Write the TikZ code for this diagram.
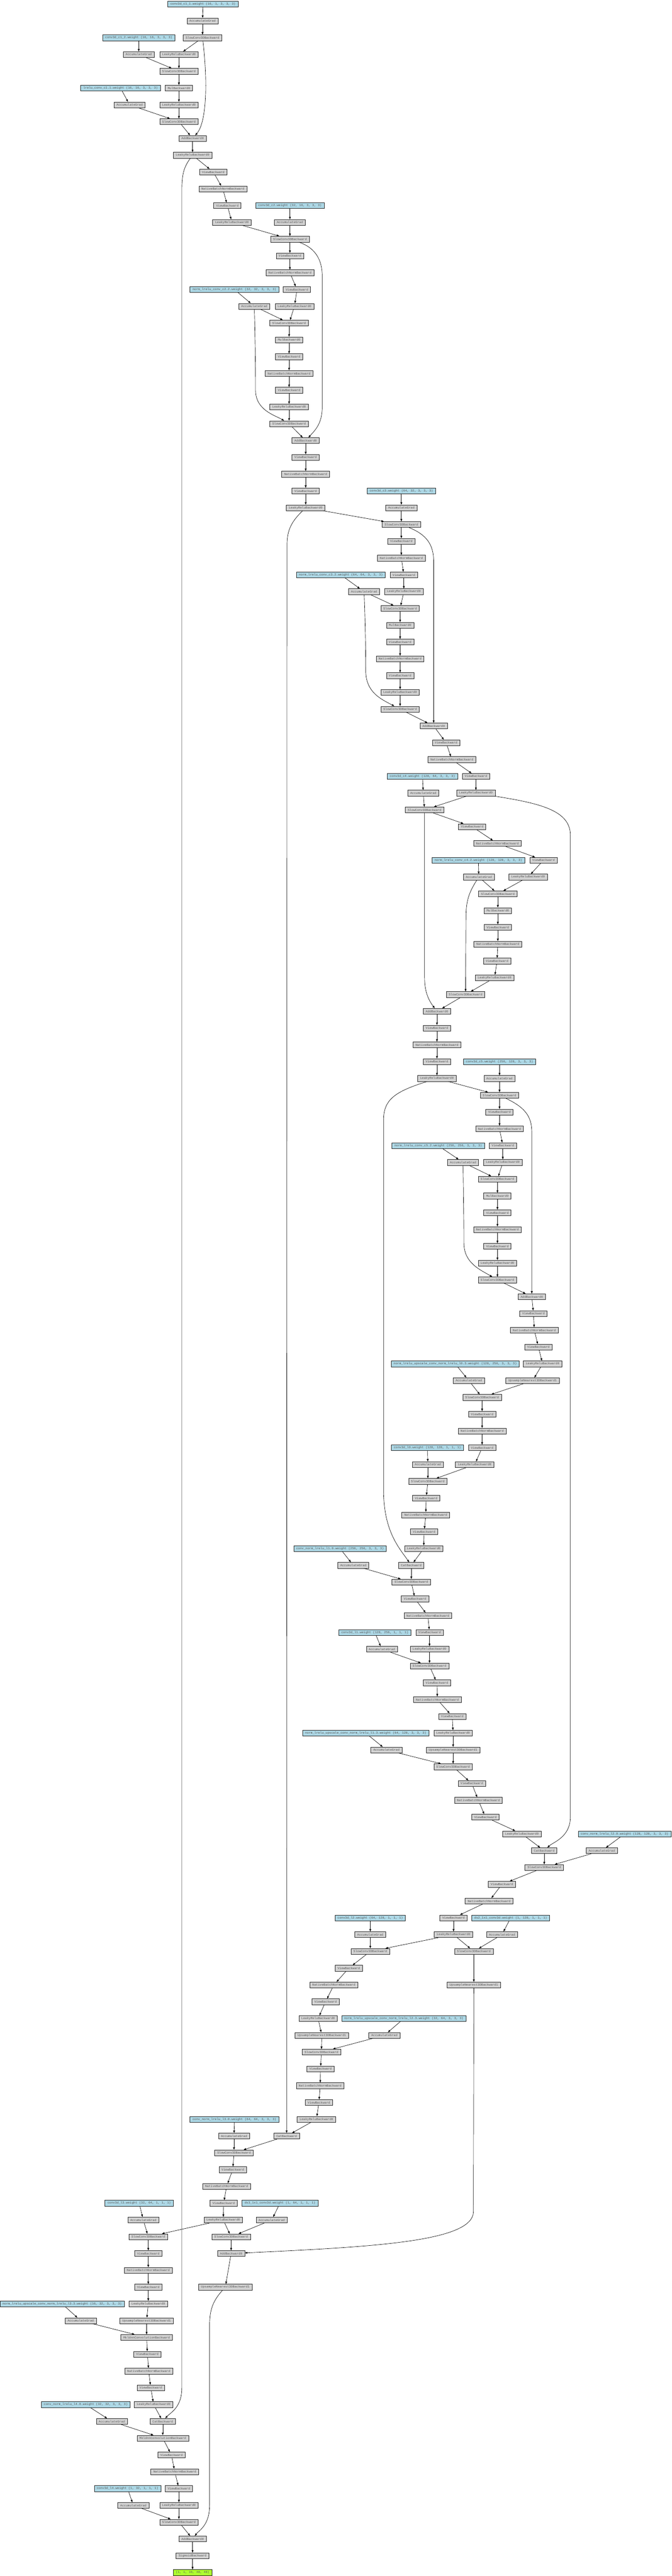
\documentclass[tikz,border=0pt]{standalone}
\usepackage{fontspec}
\setmonofont{Liberation Mono}
\usepackage{xcolor}
\usepackage{tikz}
\usetikzlibrary{arrows.meta}
\definecolor{opgray}{HTML}{D3D3D3}
\definecolor{wblue}{HTML}{ADD8E6}
\definecolor{outgreen}{HTML}{ADFF2F}
\tikzstyle{opnode} = [rectangle, draw=black!85, line width=0.8pt, fill=opgray, text=black!65, font=\ttfamily\fontsize{7.5}{8}\selectfont, minimum height=14pt, inner xsep=6pt, inner ysep=0pt]
\tikzstyle{wnode} = [opnode, fill=wblue]
\tikzstyle{outnode} = [opnode, fill=outgreen]
\tikzstyle{flow} = [draw, line width=0.8pt, -{Triangle[length=6pt,width=4.5pt]}]

\begin{document}
\begin{tikzpicture}[x=1pt, y=-40.54pt]
\useasboundingbox (0,-0.2467) rectangle (1622,153.21);
%%%% context pathway
% level 1
\node [wnode] at (490,0) (wc11) {conv3d\_c1\_1.weight (16, 1, 3, 3, 3)};
\node [opnode] at (489,1) (ag1) {AccumulateGrad};
\node [opnode] at (489,2) (sc1) {SlowConv3DBackward};
\node [wnode] at (335,2) (wc12) {conv3d\_c1\_2.weight (16, 16, 3, 3, 3)};
\node [opnode] at (335,3) (ag2) {AccumulateGrad};
\node [opnode] at (432,3) (lr1) {LeakyReluBackward0};
\node [opnode] at (432,4) (sc2) {SlowConv3DBackward};
\node [opnode] at (432,5) (mul1) {MulBackward0};
\node [wnode] at (291,5) (wlc1) {lrelu\_conv\_c1.1.weight (16, 16, 3, 3, 3)};
\node [opnode] at (313,6) (ag3) {AccumulateGrad};
\node [opnode] at (432,6) (lr2) {LeakyReluBackward0};
\node [opnode] at (432,7) (sc3) {SlowConv3DBackward};
\node [opnode] at (465,8) (add1) {AddBackward0};
\node [opnode] at (465,9) (lr3) {LeakyReluBackward0};

% level 2
\node [opnode] at (515,10) (vw1) {ViewBackward};
\node [opnode] at (538,11) (bn1) {NativeBatchNormBackward};
\node [opnode] at (549,12) (vw2) {ViewBackward};
\node [wnode] at (700,12) (wc2) {conv3d\_c2.weight (32, 16, 3, 3, 3)};
\node [opnode] at (560,13) (lr4) {LeakyReluBackward0};
\node [opnode] at (700,13) (ag4) {AccumulateGrad};
\node [opnode] at (700,14) (sc4) {SlowConv3DBackward};
\node [opnode] at (700,15) (vw3) {ViewBackward};
\node [opnode] at (700,16) (bn2) {NativeBatchNormBackward};
\node [wnode] at (566,17) (wc22) {norm\_lrelu\_conv\_c2.2.weight (32, 32, 3, 3, 3)};
\node [opnode] at (717,17) (vw4) {ViewBackward};
\node [opnode] at (614,18) (ag5) {AccumulateGrad};
\node [opnode] at (711,18) (lr5) {LeakyReluBackward0};
\node [opnode] at (698,19) (sc5) {SlowConv3DBackward};
\node [opnode] at (698,20) (mul2) {MulBackward0};
\node [opnode] at (698,21) (vw5) {ViewBackward};
\node [opnode] at (698,22) (bn3) {NativeBatchNormBackward};
\node [opnode] at (698,23) (vw6) {ViewBackward};
\node [opnode] at (698,24) (lr6) {LeakyReluBackward0};
\node [opnode] at (698,25) (sc6) {SlowConv3DBackward};
\node [opnode] at (738,26) (add2) {AddBackward0};
\node [opnode] at (738,27) (vw7) {ViewBackward};
\node [opnode] at (738,28) (bn4) {NativeBatchNormBackward};
\node [opnode] at (738,29) (vw8) {ViewBackward};
\node [opnode] at (738,30) (lr7) {LeakyReluBackward0};

% level 3
\node [wnode] at (969,29) (wc3) {conv3d\_c3.weight (64, 32, 3, 3, 3)};
\node [opnode] at (969,30) (ag6) {AccumulateGrad};
\node [opnode] at (969,31) (sc7) {SlowConv3DBackward};
\node [opnode] at (969,32) (vw9) {ViewBackward};
\node [opnode] at (969,33) (bn5) {NativeBatchNormBackward};
\node [wnode] at (823,34) (wc32) {norm\_lrelu\_conv\_c3.2.weight (64, 64, 3, 3, 3)};
\node [opnode] at (975,34) (vw10) {ViewBackward};
\node [opnode] at (879,35) (ag7) {AccumulateGrad};
\node [opnode] at (975,35) (lr8) {LeakyReluBackward0};
\node [opnode] at (966,36) (sc8) {SlowConv3DBackward};
\node [opnode] at (966,37) (mul3) {MulBackward0};
\node [opnode] at (966,38) (vw11) {ViewBackward};
\node [opnode] at (966,39) (bn6) {NativeBatchNormBackward};
\node [opnode] at (966,40) (vw12) {ViewBackward};
\node [opnode] at (966,41) (lr9) {LeakyReluBackward0};
\node [opnode] at (966,42) (sc9) {SlowConv3DBackward};
\node [opnode] at (1047,43) (add3) {AddBackward0};
\node [opnode] at (1077,44) (vw13) {ViewBackward};
\node [opnode] at (1091,45) (bn7) {NativeBatchNormBackward};
\node [wnode] at (1020,46) (wc4) {conv3d\_c4.weight (128, 64, 3, 3, 3)};
\node [opnode] at (1149,46) (vw14) {ViewBackward};
\node [opnode] at (1022,47) (ag8) {AccumulateGrad};
\node [opnode] at (1149,47) (lr10) {LeakyReluBackward0};

% level 4
\node [opnode] at (1025,48) (sc10) {SlowConv3DBackward};
\node [opnode] at (1140,49) (vw15) {ViewBackward};
\node [opnode] at (1201,50) (bn8) {NativeBatchNormBackward};
\node [wnode] at (1155,51) (wc42) {norm\_lrelu\_conv\_c4.2.weight (128, 128, 3, 3, 3)};
\node [opnode] at (1312,51) (vw16) {ViewBackward};
\node [opnode] at (1156,52) (ag9) {AccumulateGrad};
\node [opnode] at (1275,52) (lr11) {LeakyReluBackward0};
\node [opnode] at (1202,53) (sc11) {SlowConv3DBackward};
\node [opnode] at (1202,54) (mul4) {MulBackward0};
\node [opnode] at (1202,55) (vw17) {ViewBackward};
\node [opnode] at (1202,56) (bn9) {NativeBatchNormBackward};
\node [opnode] at (1200,57) (vw18) {ViewBackward};
\node [opnode] at (1194,58) (lr12) {LeakyReluBackward0};
\node [opnode] at (1124,59) (sc12) {SlowConv3DBackward};
\node [opnode] at (1055,60) (add4) {AddBackward0};
\node [opnode] at (1055,61) (vw19) {ViewBackward};
\node [opnode] at (1055,62) (bn10) {NativeBatchNormBackward};
\node [opnode] at (1055,63) (vw20) {ViewBackward};
\node [wnode] at (1206,63) (wc5) {conv3d\_c5.weight (256, 128, 3, 3, 3)};
\node [opnode] at (1055,64) (lr13) {LeakyReluBackward0};
\node [opnode] at (1206,64) (ag10) {AccumulateGrad};

% level 5
\node [opnode] at (1206,65) (sc13) {SlowConv3DBackward};
\node [opnode] at (1206,66) (vw21) {ViewBackward};
\node [opnode] at (1206,67) (bn11) {NativeBatchNormBackward};
\node [wnode] at (1058,68) (wc52) {norm\_lrelu\_conv\_c5.2.weight (256, 256, 3, 3, 3)};
\node [opnode] at (1214,68) (vw22) {ViewBackward};
\node [opnode] at (1118,69) (ag11) {AccumulateGrad};
\node [opnode] at (1214,69) (lr14) {LeakyReluBackward0};
\node [opnode] at (1201,70) (sc14) {SlowConv3DBackward};
\node [opnode] at (1201,71) (mul5) {MulBackward0};
\node [opnode] at (1201,72) (vw23) {ViewBackward};
\node [opnode] at (1201,73) (bn12) {NativeBatchNormBackward};
\node [opnode] at (1201,74) (vw24) {ViewBackward};
\node [opnode] at (1201,75) (lr15) {LeakyReluBackward0};
\node [opnode] at (1201,76) (sc15) {SlowConv3DBackward};
\node [opnode] at (1284,77) (add5) {AddBackward0};
\node [opnode] at (1288,78) (vw25) {ViewBackward};
\node [opnode] at (1290,79) (bn13) {NativeBatchNormBackward};
\node [opnode] at (1300,80) (vw26) {ViewBackward};
\node [wnode] at (1099,81) (wup0) {norm\_lrelu\_upscale\_conv\_norm\_lrelu\_l0.3.weight (128, 256, 3, 3, 3)};
\node [opnode] at (1310,81) (lr16) {LeakyReluBackward0};
\node [opnode] at (1132,82) (ag12) {AccumulateGrad};
\node [opnode] at (1286,82) (up1) {UpsampleNearest3DBackward1};
\node [opnode] at (1164,83) (sc16) {SlowConv3DBackward};

%%%% localization pathway
% level l0 / l1
\node [opnode] at (1164,84) (vw27) {ViewBackward};
\node [opnode] at (1164,85) (bn14) {NativeBatchNormBackward};
\node [wnode] at (1032,86) (wl0) {conv3d\_l0.weight (128, 128, 1, 1, 1)};
\node [opnode] at (1164,86) (vw28) {ViewBackward};
\node [opnode] at (1033,87) (ag13) {AccumulateGrad};
\node [opnode] at (1146,87) (lr17) {LeakyReluBackward0};
\node [opnode] at (1033,88) (sc17) {SlowConv3DBackward};
\node [opnode] at (1029,89) (vw29) {ViewBackward};
\node [opnode] at (1028,90) (bn15) {NativeBatchNormBackward};
\node [opnode] at (1024,91) (vw30) {ViewBackward};
\node [wnode] at (821,92) (wl10) {conv\_norm\_lrelu\_l1.0.weight (256, 256, 3, 3, 3)};
\node [opnode] at (1023,92) (lr18) {LeakyReluBackward0};
\node [opnode] at (853,93) (ag14) {AccumulateGrad};
\node [opnode] at (993,93) (cat1) {CatBackward};
\node [opnode] at (993,94) (sc18) {SlowConv3DBackward};
\node [opnode] at (1002,95) (vw31) {ViewBackward};
\node [opnode] at (1033,96) (bn16) {NativeBatchNormBackward};
\node [wnode] at (905,97) (wl1) {conv3d\_l1.weight (128, 256, 1, 1, 1)};
\node [opnode] at (1037,97) (vw32) {ViewBackward};
\node [opnode] at (922,98) (ag15) {AccumulateGrad};
\node [opnode] at (1037,98) (lr19) {LeakyReluBackward0};
\node [opnode] at (1037,99) (sc19) {SlowConv3DBackward};
\node [opnode] at (1055,100) (vw33) {ViewBackward};
\node [opnode] at (1056,101) (bn17) {NativeBatchNormBackward};
\node [opnode] at (1092,102) (vw34) {ViewBackward};
\node [wnode] at (883,103) (wup1) {norm\_lrelu\_upscale\_conv\_norm\_lrelu\_l1.3.weight (64, 128, 3, 3, 3)};
\node [opnode] at (1094,103) (lr20) {LeakyReluBackward0};
\node [opnode] at (933,104) (ag16) {AccumulateGrad};
\node [opnode] at (1094,104) (up2) {UpsampleNearest3DBackward1};
\node [opnode] at (1094,105) (sc20) {SlowConv3DBackward};

% level l2
\node [opnode] at (1139,106) (vw35) {ViewBackward};
\node [opnode] at (1155,107) (bn18) {NativeBatchNormBackward};
\node [opnode] at (1172,108) (vw36) {ViewBackward};
\node [opnode] at (1260,109) (lr21) {LeakyReluBackward0};
\node [wnode] at (1508,109) (wl20) {conv\_norm\_lrelu\_l2.0.weight (128, 128, 3, 3, 3)};
\node [opnode] at (1314,110) (cat2) {CatBackward};
\node [opnode] at (1453,110) (ag17) {AccumulateGrad};
\node [opnode] at (1314,111) (sc21) {SlowConv3DBackward};
\node [opnode] at (1212,112) (vw37) {ViewBackward};
\node [opnode] at (1181,113) (bn19) {NativeBatchNormBackward};
\node [wnode] at (894,114) (wl2) {conv3d\_l2.weight (64, 128, 1, 1, 1)};
\node [opnode] at (1095,114) (vw38) {ViewBackward};
\node [wnode] at (1233,114) (wds2) {ds2\_1x1\_conv3d.weight (1, 128, 1, 1, 1)};
\node [opnode] at (894,115) (ag18) {AccumulateGrad};
\node [opnode] at (1095,115) (lr22) {LeakyReluBackward0};
\node [opnode] at (1212,115) (ag19) {AccumulateGrad};
\node [opnode] at (894,116) (sc22) {SlowConv3DBackward};
\node [opnode] at (1144,116) (sc23) {SlowConv3DBackward};
\node [opnode] at (842,117) (vw39) {ViewBackward};
\node [opnode] at (806,118) (bn20) {NativeBatchNormBackward};
\node [opnode] at (1144,118) (up3) {UpsampleNearest3DBackward1};
\node [opnode] at (786,119) (vw40) {ViewBackward};
\node [opnode] at (768,120) (lr23) {LeakyReluBackward0};
\node [wnode] at (975,120) (wup2) {norm\_lrelu\_upscale\_conv\_norm\_lrelu\_l2.3.weight (32, 64, 3, 3, 3)};
\node [opnode] at (777,121) (up4) {UpsampleNearest3DBackward1};
\node [opnode] at (928,121) (ag20) {AccumulateGrad};
\node [opnode] at (776,122) (sc24) {SlowConv3DBackward};

% level l3
\node [opnode] at (774,123) (vw41) {ViewBackward};
\node [opnode] at (773,124) (bn21) {NativeBatchNormBackward};
\node [opnode] at (770,125) (vw42) {ViewBackward};
\node [wnode] at (566,126) (wl30) {conv\_norm\_lrelu\_l3.0.weight (64, 64, 3, 3, 3)};
\node [opnode] at (764,126) (lr24) {LeakyReluBackward0};
\node [opnode] at (565,127) (ag21) {AccumulateGrad};
\node [opnode] at (692,127) (cat3) {CatBackward};
\node [opnode] at (565,128) (sc25) {SlowConv3DBackward};
\node [opnode] at (562,129) (vw43) {ViewBackward};
\node [opnode] at (547,130) (bn22) {NativeBatchNormBackward};
\node [wnode] at (336,131) (wl3) {conv3d\_l3.weight (32, 64, 1, 1, 1)};
\node [opnode] at (540,131) (vw44) {ViewBackward};
\node [wnode] at (676,131) (wds3) {ds3\_1x1\_conv3d.weight (1, 64, 1, 1, 1)};
\node [opnode] at (346,132) (ag22) {AccumulateGrad};
\node [opnode] at (539,132) (lr25) {LeakyReluBackward0};
\node [opnode] at (656,132) (ag23) {AccumulateGrad};
\node [opnode] at (358,133) (sc26) {SlowConv3DBackward};
\node [opnode] at (558,133) (sc27) {SlowConv3DBackward};
\node [opnode] at (358,134) (vw45) {ViewBackward};
\node [opnode] at (558,134) (add6) {AddBackward0};
\node [opnode] at (358,135) (bn23) {NativeBatchNormBackward};
\node [opnode] at (358,136) (vw46) {ViewBackward};
\node [opnode] at (544,136) (up5) {UpsampleNearest3DBackward1};
\node [wnode] at (150,137) (wup3) {norm\_lrelu\_upscale\_conv\_norm\_lrelu\_l3.3.weight (16, 32, 3, 3, 3)};
\node [opnode] at (358,137) (lr26) {LeakyReluBackward0};
\node [opnode] at (195,138) (ag24) {AccumulateGrad};
\node [opnode] at (354,138) (up6) {UpsampleNearest3DBackward1};
\node [opnode] at (354,139) (mk1) {MkldnnConvolutionBackward};

% level l4 and output
\node [opnode] at (356,140) (vw47) {ViewBackward};
\node [opnode] at (359,141) (bn24) {NativeBatchNormBackward};
\node [opnode] at (364,142) (vw48) {ViewBackward};
\node [wnode] at (207,143) (wl40) {conv\_norm\_lrelu\_l4.0.weight (32, 32, 3, 3, 3)};
\node [opnode] at (371,143) (lr27) {LeakyReluBackward0};
\node [opnode] at (270,144) (ag25) {AccumulateGrad};
\node [opnode] at (393,144) (cat4) {CatBackward};
\node [opnode] at (393,145) (mk2) {MkldnnConvolutionBackward};
\node [opnode] at (414,146) (vw49) {ViewBackward};
\node [opnode] at (422,147) (bn25) {NativeBatchNormBackward};
\node [wnode] at (308,148) (wl4) {conv3d\_l4.weight (1, 32, 1, 1, 1)};
\node [opnode] at (432,148) (vw50) {ViewBackward};
\node [opnode] at (322,149) (ag26) {AccumulateGrad};
\node [opnode] at (432,149) (lr28) {LeakyReluBackward0};
\node [opnode] at (432,150) (sc28) {SlowConv3DBackward};
\node [opnode] at (465,151) (add7) {AddBackward0};
\node [opnode] at (465,152) (sig) {SigmoidBackward};
\node [outnode] at (465,153) (out) {(1, 1, 16, 48, 48)};

% level 1 edges
\path [flow] (wc11) to (ag1);
\path [flow] (ag1) to (sc1);
\path [flow] (sc1) to (lr1);
\path [flow] (sc1) .. controls (501,4.5) and (500,7) .. (add1);
\path [flow] (wc12) to (ag2);
\path [flow] (ag2) to (sc2);
\path [flow] (lr1) to (sc2);
\path [flow] (sc2) to (mul1);
\path [flow] (mul1) to (lr2);
\path [flow] (wlc1) to (ag3);
\path [flow] (ag3) to (sc3);
\path [flow] (lr2) to (sc3);
\path [flow] (sc3) to (add1);
\path [flow] (add1) to (lr3);

% level 2 edges
\path [flow] (lr3) to (vw1);
\path [flow] (vw1) to (bn1);
\path [flow] (bn1) to (vw2);
\path [flow] (vw2) to (lr4);
\path [flow] (wc2) to (ag4);
\path [flow] (ag4) to (sc4);
\path [flow] (lr4) to (sc4);
\path [flow] (sc4) to (vw3);
\path [flow] (sc4) .. controls (760,14.5) and (778,15.2) .. (778,16.2) -- (778,24) .. controls (778,25) and (760,25.4) .. (add2);
\path [flow] (vw3) to (bn2);
\path [flow] (bn2) to (vw4);
\path [flow] (vw4) to (lr5);
\path [flow] (wc22) to (ag5);
\path [flow] (ag5) to (sc5);
\path [flow] (lr5) to (sc5);
\path [flow] (sc5) to (mul2);
\path [flow] (mul2) to (vw5);
\path [flow] (vw5) to (bn3);
\path [flow] (bn3) to (vw6);
\path [flow] (vw6) to (lr6);
\path [flow] (lr6) to (sc6);
\path [flow] (ag5) .. controls (616,20) and (617,21.5) .. (617,23) .. controls (617,24.2) and (665,24.5) .. (sc6);
\path [flow] (sc6) to (add2);
\path [flow] (add2) to (vw7);
\path [flow] (vw7) to (bn4);
\path [flow] (bn4) to (vw8);
\path [flow] (vw8) to (lr7);

% level 3 edges
\path [flow] (lr7) to (sc7);
\path [flow] (wc3) to (ag6);
\path [flow] (ag6) to (sc7);
\path [flow] (sc7) to (vw9);
\path [flow] (sc7) .. controls (1030,31.6) and (1047,32.2) .. (1047,33.2) -- (add3);
\path [flow] (vw9) to (bn5);
\path [flow] (bn5) to (vw10);
\path [flow] (vw10) to (lr8);
\path [flow] (wc32) to (ag7);
\path [flow] (ag7) to (sc8);
\path [flow] (lr8) to (sc8);
\path [flow] (sc8) to (mul3);
\path [flow] (mul3) to (vw11);
\path [flow] (vw11) to (bn6);
\path [flow] (bn6) to (vw12);
\path [flow] (vw12) to (lr9);
\path [flow] (lr9) to (sc9);
\path [flow] (ag7) .. controls (882,37) and (883,38.5) .. (883,39.7) .. controls (883,41) and (920,41.4) .. (sc9);
\path [flow] (sc9) to (add3);
\path [flow] (add3) to (vw13);
\path [flow] (vw13) to (bn7);
\path [flow] (bn7) to (vw14);
\path [flow] (vw14) to (lr10);

% level 4 edges
\path [flow] (lr10) to (sc10);
\path [flow] (wc4) to (ag8);
\path [flow] (ag8) to (sc10);
\path [flow] (sc10) to (vw15);
\path [flow] (sc10) -- (1025,58) .. controls (1025,59) and (1040,59.5) .. (add4);
\path [flow] (vw15) to (bn8);
\path [flow] (bn8) to (vw16);
\path [flow] (vw16) to (lr11);
\path [flow] (wc42) to (ag9);
\path [flow] (ag9) to (sc11);
\path [flow] (lr11) to (sc11);
\path [flow] (sc11) to (mul4);
\path [flow] (mul4) to (vw17);
\path [flow] (vw17) to (bn9);
\path [flow] (bn9) to (vw18);
\path [flow] (vw18) to (lr12);
\path [flow] (lr12) to (sc12);
\path [flow] (ag9) .. controls (1130,53) and (1125,53.5) .. (1125,54.5) -- (sc12);
\path [flow] (sc12) to (add4);
\path [flow] (add4) to (vw19);
\path [flow] (vw19) to (bn10);
\path [flow] (bn10) to (vw20);
\path [flow] (vw20) to (lr13);

% level 5 edges
\path [flow] (lr13) to (sc13);
\path [flow] (wc5) to (ag10);
\path [flow] (ag10) to (sc13);
\path [flow] (sc13) to (vw21);
\path [flow] (sc13) .. controls (1265,65.7) and (1284,66.2) .. (1284,67.2) -- (add5);
\path [flow] (vw21) to (bn11);
\path [flow] (bn11) to (vw22);
\path [flow] (vw22) to (lr14);
\path [flow] (wc52) to (ag11);
\path [flow] (ag11) to (sc14);
\path [flow] (lr14) to (sc14);
\path [flow] (sc14) to (mul5);
\path [flow] (mul5) to (vw23);
\path [flow] (vw23) to (bn12);
\path [flow] (bn12) to (vw24);
\path [flow] (vw24) to (lr15);
\path [flow] (lr15) to (sc15);
\path [flow] (ag11) .. controls (1119,71) and (1120,72.5) .. (1120,73.8) .. controls (1120,75) and (1160,75.4) .. (sc15);
\path [flow] (sc15) to (add5);
\path [flow] (add5) to (vw25);
\path [flow] (vw25) to (bn13);
\path [flow] (bn13) to (vw26);
\path [flow] (vw26) to (lr16);
\path [flow] (lr16) to (up1);
\path [flow] (wup0) to (ag12);
\path [flow] (ag12) to (sc16);
\path [flow] (up1) to (sc16);

% decoder edges
\path [flow] (sc16) to (vw27);
\path [flow] (vw27) to (bn14);
\path [flow] (bn14) to (vw28);
\path [flow] (vw28) to (lr17);
\path [flow] (wl0) to (ag13);
\path [flow] (ag13) to (sc17);
\path [flow] (lr17) to (sc17);
\path [flow] (sc17) to (vw29);
\path [flow] (vw29) to (bn15);
\path [flow] (bn15) to (vw30);
\path [flow] (vw30) to (lr18);
\path [flow] (lr18) to (cat1);
\path [flow] (wl10) to (ag14);
\path [flow] (ag14) to (sc18);
\path [flow] (cat1) to (sc18);
\path [flow] (sc18) to (vw31);
\path [flow] (vw31) to (bn16);
\path [flow] (bn16) to (vw32);
\path [flow] (vw32) to (lr19);
\path [flow] (wl1) to (ag15);
\path [flow] (ag15) to (sc19);
\path [flow] (lr19) to (sc19);
\path [flow] (sc19) to (vw33);
\path [flow] (vw33) to (bn17);
\path [flow] (bn17) to (vw34);
\path [flow] (vw34) to (lr20);
\path [flow] (lr20) to (up2);
\path [flow] (wup1) to (ag16);
\path [flow] (ag16) to (sc20);
\path [flow] (up2) to (sc20);
\path [flow] (sc20) to (vw35);
\path [flow] (vw35) to (bn18);
\path [flow] (bn18) to (vw36);
\path [flow] (vw36) to (lr21);
\path [flow] (lr21) to (cat2);
\path [flow] (wl20) to (ag17);
\path [flow] (ag17) to (sc21);
\path [flow] (cat2) to (sc21);
\path [flow] (sc21) to (vw37);
\path [flow] (vw37) to (bn19);
\path [flow] (bn19) to (vw38);
\path [flow] (vw38) to (lr22);
\path [flow] (wl2) to (ag18);
\path [flow] (ag18) to (sc22);
\path [flow] (lr22) to (sc22);
\path [flow] (wds2) to (ag19);
\path [flow] (ag19) to (sc23);
\path [flow] (lr22) to (sc23);
\path [flow] (sc23) to (up3);
\path [flow] (sc22) to (vw39);
\path [flow] (vw39) to (bn20);
\path [flow] (bn20) to (vw40);
\path [flow] (vw40) to (lr23);
\path [flow] (lr23) to (up4);
\path [flow] (wup2) to (ag20);
\path [flow] (ag20) to (sc24);
\path [flow] (up4) to (sc24);
\path [flow] (sc24) to (vw41);
\path [flow] (vw41) to (bn21);
\path [flow] (bn21) to (vw42);
\path [flow] (vw42) to (lr24);
\path [flow] (lr24) to (cat3);
\path [flow] (wl30) to (ag21);
\path [flow] (ag21) to (sc25);
\path [flow] (cat3) to (sc25);
\path [flow] (sc25) to (vw43);
\path [flow] (vw43) to (bn22);
\path [flow] (bn22) to (vw44);
\path [flow] (vw44) to (lr25);
\path [flow] (wl3) to (ag22);
\path [flow] (ag22) to (sc26);
\path [flow] (lr25) to (sc26);
\path [flow] (wds3) to (ag23);
\path [flow] (ag23) to (sc27);
\path [flow] (lr25) to (sc27);
\path [flow] (sc27) to (add6);
\path [flow] (up3) -- (1143,131.5) .. controls (1143,133.3) and (900,133.6) .. (add6);
\path [flow] (add6) to (up5);
\path [flow] (sc26) to (vw45);
\path [flow] (vw45) to (bn23);
\path [flow] (bn23) to (vw46);
\path [flow] (vw46) to (lr26);
\path [flow] (lr26) to (up6);
\path [flow] (wup3) to (ag24);
\path [flow] (ag24) to (mk1);
\path [flow] (up6) to (mk1);
\path [flow] (mk1) to (vw47);
\path [flow] (vw47) to (bn24);
\path [flow] (bn24) to (vw48);
\path [flow] (vw48) to (lr27);
\path [flow] (lr27) to (cat4);
\path [flow] (wl40) to (ag25);
\path [flow] (ag25) to (mk2);
\path [flow] (cat4) to (mk2);
\path [flow] (mk2) to (vw49);
\path [flow] (vw49) to (bn25);
\path [flow] (bn25) to (vw50);
\path [flow] (vw50) to (lr28);
\path [flow] (wl4) to (ag26);
\path [flow] (ag26) to (sc28);
\path [flow] (lr28) to (sc28);
\path [flow] (sc28) to (add7);
\path [flow] (up5) .. controls (515,136.8) and (506,137.3) .. (506,138.3) -- (506,149) .. controls (506,150.2) and (480,150.5) .. (add7);
\path [flow] (add7) to (sig);
\path [flow] (sig) to (out);

% skip connections
\path [flow] (lr3) .. controls (441,9.8) and (439,10.3) .. (439,11.2) -- (439,142) .. controls (439,143.2) and (410,143.5) .. (cat4);
\path [flow] (lr7) .. controls (705,30.8) and (693,31.3) .. (693,32.2) -- (cat3);
\path [flow] (lr10) .. controls (1300,47.6) and (1377,48) .. (1377,49.5) -- (1377,108) .. controls (1377,109.2) and (1335,109.5) .. (cat2);
\path [flow] (lr13) .. controls (950,64.8) and (926,65.3) .. (926,66.5) -- (926,88.5) .. controls (926,91) and (965,92) .. (cat1);
\end{tikzpicture}
\end{document}
